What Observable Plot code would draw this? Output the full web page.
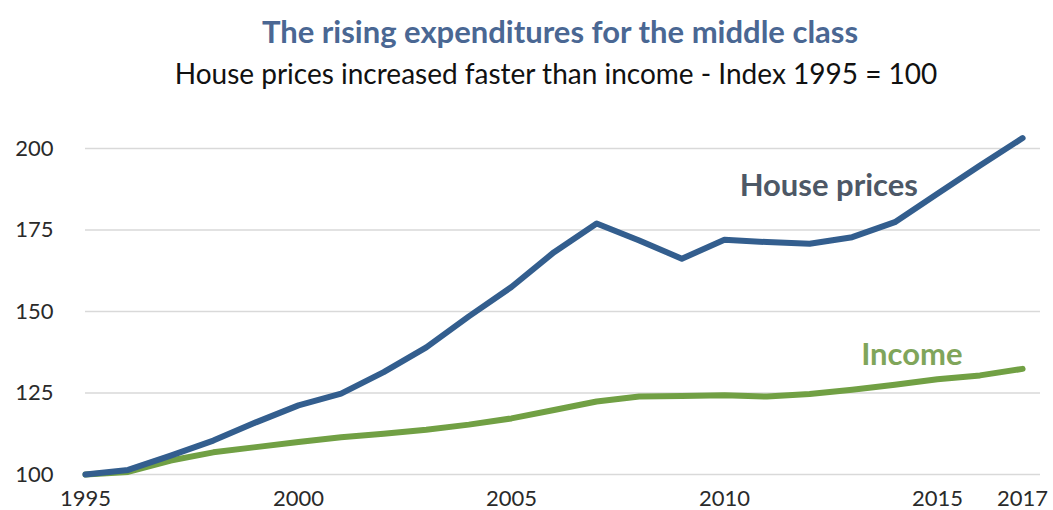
<!DOCTYPE html>
<html>
<head>
<meta charset="utf-8">
<script src="https://cdn.jsdelivr.net/npm/d3@7"></script>
<script src="https://cdn.jsdelivr.net/npm/@observablehq/plot@0.6"></script>
<style>
  html, body { margin: 0; padding: 0; background: #fff; }
  body { width: 1053px; height: 510px; overflow: hidden; font-family: Lato, "Open Sans", sans-serif; }
  #head { height: 100px; position: relative; }
  #title { position: absolute; left: 0; width: 1120px; top: 12px; text-align: center;
           font-size: 31px; font-weight: 700; color: #4a6793; }
  #subtitle { position: absolute; left: 0; width: 1112px; top: 56px; text-align: center;
              font-size: 28px; color: #111; }
</style>
</head>
<body>
<div id="head">
  <div id="title">The rising expenditures for the middle class</div>
  <div id="subtitle">House prices increased faster than income - Index 1995 = 100</div>
</div>
<div id="chart"></div>
<script>
// Index values, 1995 = 100
const years = [1995, 1996, 1997, 1998, 1999, 2000, 2001, 2002, 2003, 2004, 2005, 2006,
               2007, 2008, 2009, 2010, 2011, 2012, 2013, 2014, 2015, 2016, 2017];
const housePrices = [100, 101.4, 105.8, 110.4, 116, 121.2, 124.8, 131.4, 139, 148.5, 157.5, 168.2,
                     177, 171.8, 166.2, 172, 171.3, 170.8, 172.8, 177.4, 186.1, 194.8, 203.2];
const income = [100, 100.8, 104.3, 106.8, 108.4, 110, 111.4, 112.5, 113.7, 115.3, 117.2, 119.8,
                122.4, 123.9, 124.1, 124.3, 123.9, 124.7, 126, 127.5, 129.2, 130.4, 132.4];
const yTicks = [100, 125, 150, 175, 200];
const xTicks = [1995, 2000, 2005, 2010, 2015, 2017];

// Series labels placed next to their lines
const seriesNames = ["House prices", "Income"];
const labelYears = [2012.45, 2014.4];
const labelValues = [188.6, 136.6];

const houseRows = years.map((year, i) => ({year, value: housePrices[i]}));
const incomeRows = years.map((year, i) => ({year, value: income[i]}));
const labelRows = seriesNames.map((name, i) => ({name, year: labelYears[i], value: labelValues[i]}));

const blue = "#335e8e";
const green = "#71a044";

const chart = Plot.plot({
  width: 1053,
  height: 410,
  marginLeft: 85,
  marginRight: 13,
  marginTop: 48,
  marginBottom: 36,
  style: {fontFamily: "Lato, 'Open Sans', sans-serif", fontSize: "22px", color: "#2a2a2a"},
  x: {domain: [1995, 2017.42], ticks: xTicks, tickFormat: d => String(d), tickSize: 0, tickPadding: 16, label: null},
  y: {domain: [100, 200], ticks: yTicks, tickSize: 0, tickPadding: 32, label: null},
  marks: [
    Plot.ruleY(yTicks, {stroke: "#d9d9d9", strokeWidth: 1.5}),
    Plot.line(incomeRows, {x: "year", y: "value", stroke: green, strokeWidth: 6, strokeLinejoin: "round", strokeLinecap: "round"}),
    Plot.line(houseRows, {x: "year", y: "value", stroke: blue, strokeWidth: 6, strokeLinejoin: "round", strokeLinecap: "round"}),
    Plot.text(labelRows, {
      x: "year", y: "value", text: "name",
      fill: d => d.name === "Income" ? "#80a55a" : "#4d5866",
      fontSize: 31, fontWeight: 700
    })
  ]
});
document.getElementById("chart").appendChild(chart);
</script>
</body>
</html>
